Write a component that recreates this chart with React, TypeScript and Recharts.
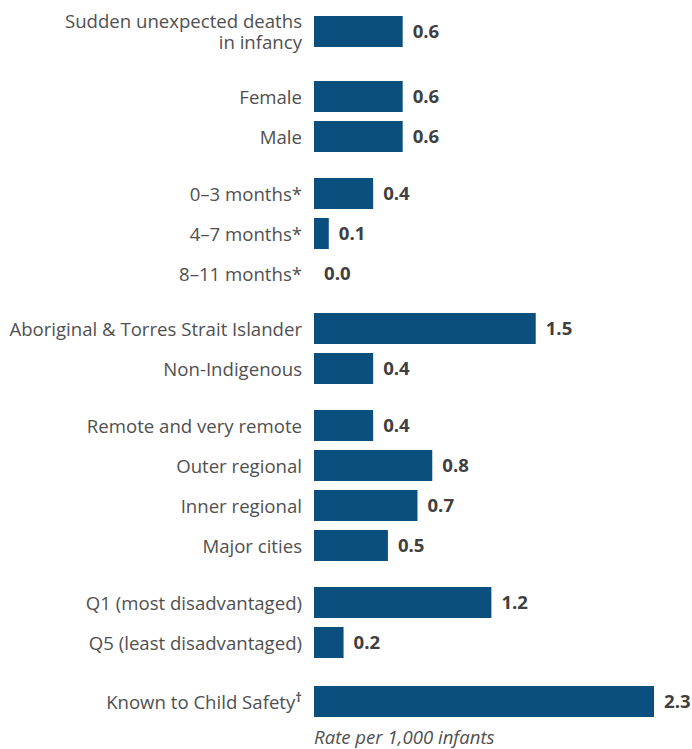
import React from 'react';
import { BarChart, Bar, XAxis, YAxis, LabelList } from 'recharts';

// one small array per breakdown, top to bottom as in the source figure
const sidsLabels = ['Sudden unexpected deaths\nin infancy'];
const sidsRates = [0.6];

const sexLabels = ['Female', 'Male'];
const sexRates = [0.6, 0.6];

const ageLabels = ['0–3 months*', '4–7 months*', '8–11 months*'];
const ageRates = [0.4, 0.1, 0.0];

const indigenousLabels = ['Aboriginal & Torres Strait Islander', 'Non-Indigenous'];
const indigenousRates = [1.5, 0.4];

const remotenessLabels = ['Remote and very remote', 'Outer regional', 'Inner regional', 'Major cities'];
const remotenessRates = [0.4, 0.8, 0.7, 0.5];

const seifaLabels = ['Q1 (most disadvantaged)', 'Q5 (least disadvantaged)'];
const seifaRates = [1.2, 0.2];

const childSafetyLabels = ['Known to Child Safety†'];
const childSafetyRates = [2.3];

const X_MAX = 2.3;
const AXIS_TITLE = 'Rate per 1,000 infants';

const BAR_COLOR = '#0b4f7e';
const LABEL_COLOR = '#505050';
const VALUE_COLOR = '#404040';
const FONT = '"Open Sans", "Noto Sans", sans-serif';
const FONT_SIZE = 18.6;

const CHART_WIDTH = 692;
const ROW = 40;
const Y_AXIS_WIDTH = 306;

// gap = space above the group, pad = space below it (kept inside the svg so text isn't clipped)
const groups = [
  { labels: sidsLabels, rates: sidsRates, gap: 11, pad: 12 },
  { labels: sexLabels, rates: sexRates, gap: 13, pad: 0 },
  { labels: ageLabels, rates: ageRates, gap: 17, pad: 0 },
  { labels: indigenousLabels, rates: indigenousRates, gap: 15, pad: 0 },
  { labels: remotenessLabels, rates: remotenessRates, gap: 17, pad: 0 },
  { labels: seifaLabels, rates: seifaRates, gap: 17, pad: 0 },
  { labels: childSafetyLabels, rates: childSafetyRates, gap: 19, pad: 0 },
];

const CategoryTick = (props: any) => {
  const { x, y, payload } = props;
  const lines: string[] = String(payload.value).split('\n');
  const lineHeight = 20.4;
  const firstDy = -((lines.length - 1) * lineHeight) / 2 + 7.6;
  return (
    <text x={x} y={y} textAnchor="end" fill={LABEL_COLOR} fontFamily={FONT} fontSize={FONT_SIZE}>
      {lines.map((line, i) => {
        const dagger = line.endsWith('†');
        const main = dagger ? line.slice(0, -1) : line;
        return (
          <tspan key={i} x={x} dy={i === 0 ? firstDy : lineHeight}>
            {main}
            {dagger && (
              <tspan fontSize={13} fontWeight={700} dy={-7}>
                †
              </tspan>
            )}
          </tspan>
        );
      })}
    </text>
  );
};

const AxisTitle = (props: any) => {
  const vb = props.viewBox || {};
  return (
    <text
      x={vb.x}
      y={vb.y + 23}
      fill={LABEL_COLOR}
      fontFamily={FONT}
      fontSize={FONT_SIZE}
      fontStyle="italic"
    >
      {AXIS_TITLE}
    </text>
  );
};

const GroupChart = ({
  labels,
  rates,
  gap,
  pad,
  last,
}: {
  labels: string[];
  rates: number[];
  gap: number;
  pad: number;
  last: boolean;
}) => {
  const data = labels.map((name, i) => ({ name, rate: rates[i] }));
  const axisHeight = last ? 28 : 0;
  return (
    <BarChart
      layout="vertical"
      width={CHART_WIDTH}
      height={gap + labels.length * ROW + axisHeight + pad}
      data={data}
      margin={{ top: gap, right: 38, bottom: pad, left: 8 }}
    >
      <XAxis
        type="number"
        domain={[0, X_MAX]}
        hide={!last}
        height={axisHeight}
        tick={false}
        axisLine={false}
        tickLine={false}
        label={<AxisTitle />}
      />
      <YAxis
        type="category"
        dataKey="name"
        width={Y_AXIS_WIDTH}
        axisLine={false}
        tickLine={false}
        tickSize={0}
        tickMargin={12}
        interval={0}
        tick={<CategoryTick />}
      />
      <Bar dataKey="rate" fill={BAR_COLOR} barSize={31} minPointSize={0.01} isAnimationActive={false}>
        <LabelList
          dataKey="rate"
          position="right"
          offset={10}
          formatter={(v: any) => Number(v).toFixed(1)}
          style={{ fill: VALUE_COLOR, fontFamily: FONT, fontSize: FONT_SIZE, fontWeight: 700 }}
        />
      </Bar>
    </BarChart>
  );
};

export default function App() {
  return (
    <div
      style={{
        position: 'fixed',
        left: 0,
        top: 0,
        width: 692,
        height: 749,
        overflow: 'hidden',
        background: '#ffffff',
      }}
    >
      {groups.map((g, i) => (
        <GroupChart
          key={i}
          labels={g.labels}
          rates={g.rates}
          gap={g.gap}
          pad={g.pad}
          last={i === groups.length - 1}
        />
      ))}
    </div>
  );
}
